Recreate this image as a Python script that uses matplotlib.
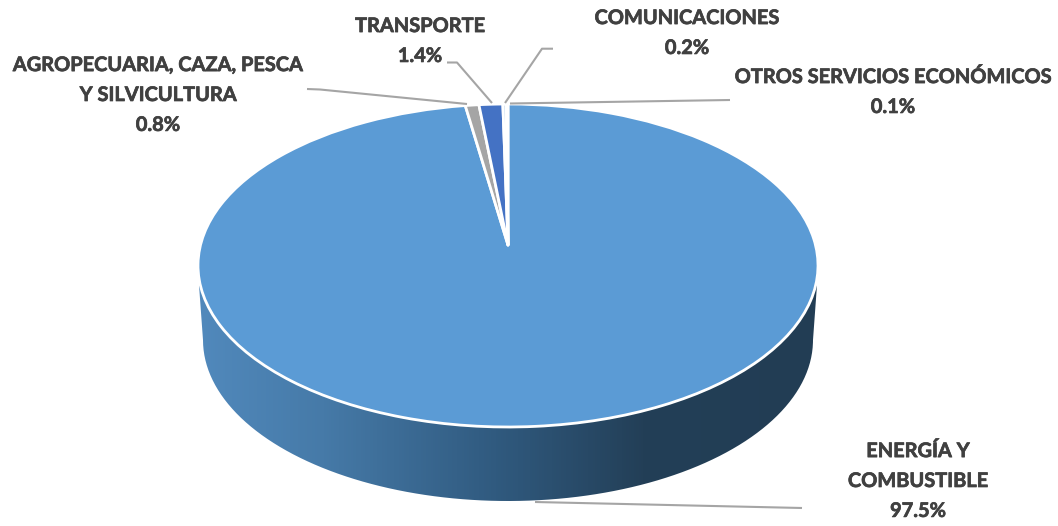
import numpy as np
import matplotlib
matplotlib.use("Agg")
import matplotlib.pyplot as plt
import matplotlib.patheffects as pe
from matplotlib.colors import LinearSegmentedColormap
from matplotlib.patches import PathPatch
from matplotlib.path import Path
from matplotlib.transforms import Transform, Affine2D

# --- data -----------------------------------------------------------
categories = ["ENERGÍA Y\nCOMBUSTIBLE", "AGROPECUARIA, CAZA, PESCA\nY SILVICULTURA",
              "TRANSPORTE", "COMUNICACIONES", "OTROS SERVICIOS ECONÓMICOS"]
values = [97.5, 0.8, 1.4, 0.2, 0.1]
colors = ["#5B9BD5", "#A5A5A5", "#4472C4", "#BCD5EC", "#A5A5A5"]

# --- layout (reference pixels) --------------------------------------
label_pos = [(918, 481), (158, 95), (420, 41), (687, 33), (893, 92)]
leaders = [
    [(535, 502), (802, 508)],
    [(307, 89), (320, 89.5), (467, 104)],
    [(447, 62.5), (457, 62.5), (492, 103)],
    [(553, 48.7), (542, 48.7), (505, 103)],
    [(730, 100), (510, 103.5)],
]
APEX = (508, 245)
TOP_Y, BOTTOM_Y, LEFT_X, RIGHT_X = 104, 427, 198, 818


class Tilt(Transform):
    """Projective view of a unit-circle pie seen from above."""
    input_dims = output_dims = 2
    is_separable = False
    has_inverse = False

    def __init__(self, above, below, half_width):
        super().__init__()
        self.a = (below - above) / (below + above)
        self.A = above * (1 + self.a)
        self.B = half_width * np.sqrt(1 - self.a ** 2)

    def transform_non_affine(self, values):
        values = np.asarray(values, dtype=float)
        w = 1 + self.a * values[:, 1]
        return np.column_stack([self.B * values[:, 0] / w, self.A * values[:, 1] / w])


plt.rcParams["font.family"] = ["Lato", "DejaVu Sans"]
fig = plt.figure(figsize=(10.58, 5.26), dpi=100, facecolor="white")
ax = fig.add_axes([0, 0, 1, 1])

wedges, _ = ax.pie(values, colors=colors, startangle=90, counterclock=False,
                   wedgeprops=dict(edgecolor="white", linewidth=2.0))

tilt = (Tilt(APEX[1] - TOP_Y, BOTTOM_Y - APEX[1], (RIGHT_X - LEFT_X) / 2)
        + Affine2D().scale(1, -1).translate(*APEX) + ax.transData)
for w in wedges:
    w.set_transform(tilt)
    w.set_zorder(3)
    w.set_joinstyle("round")

# side wall of the cylinder with a left-to-right gradient
cx = (LEFT_X + RIGHT_X) / 2
theta = np.linspace(np.pi, 0, 200)
rim_x = cx + 305 * np.cos(theta)
rim_y = 340 + 161 * np.sin(theta)
verts = np.column_stack([np.r_[199, rim_x, 817], np.r_[285, rim_y, 285]])
verts = np.vstack([verts, [[760, 265], [256, 265], [199, 285]]])
side = PathPatch(Path(verts), facecolor="none", edgecolor="none", transform=ax.transData)
ax.add_patch(side)
cmap = LinearSegmentedColormap.from_list(
    "wall", [(0, "#5189BC"), (0.2, "#467AA8"), (0.48, "#305A7F"), (0.72, "#233F57"), (1, "#223D54")])
im = ax.imshow(np.linspace(0, 1, 620)[None, :], cmap=cmap, aspect="auto",
               extent=(LEFT_X, RIGHT_X, 510, 240), zorder=1)
im.set_clip_path(side)

ax.set_aspect("auto")
ax.set_xlim(0, 1058)
ax.set_ylim(526, 0)
ax.set_axis_off()

for line in leaders:
    xs, ys = zip(*line)
    ax.plot(xs, ys, color="#A5A5A5", lw=1.5, zorder=4, solid_capstyle="butt")

bolder = [pe.withStroke(linewidth=0.5, foreground="#404040")]
for name, v, (x, y) in zip(categories, values, label_pos):
    ax.text(x, y, f"{name}\n{v:.1f}%", ha="center", va="center", ma="center",
            fontsize=14.4, fontweight="bold", color="#404040", linespacing=1.62,
            zorder=5, path_effects=bolder)

fig.savefig("out.png", dpi=100, facecolor="white")
